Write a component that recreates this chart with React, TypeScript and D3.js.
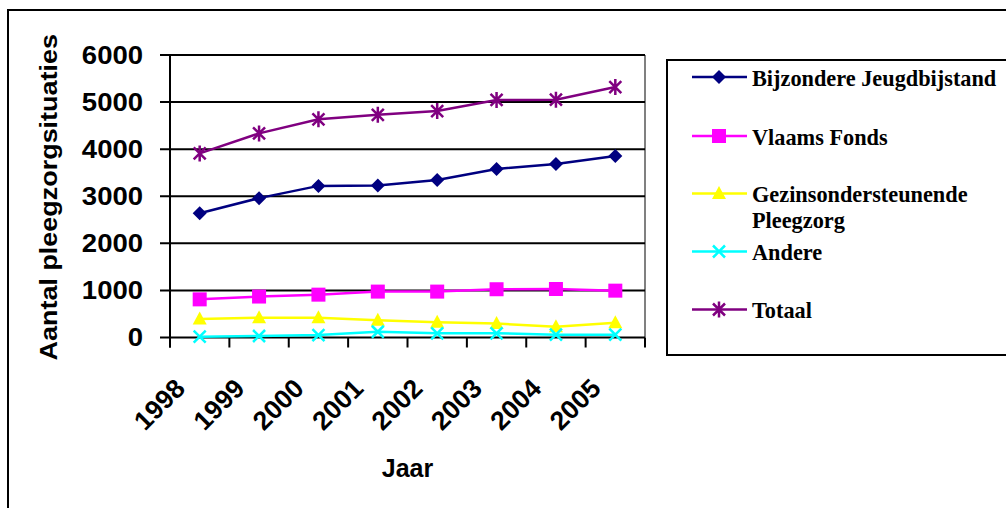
import React from "react";
import * as d3 from "d3";

const years = ["1998", "1999", "2000", "2001", "2002", "2003", "2004", "2005"];
const bijzondere = [2640, 2960, 3220, 3230, 3345, 3580, 3685, 3855];
const vlaams = [810, 870, 910, 975, 975, 1025, 1030, 995];
const gezins = [395, 420, 420, 365, 325, 295, 230, 315];
const andere = [18, 32, 52, 122, 90, 90, 60, 60];
const totaal = [3910, 4335, 4635, 4730, 4810, 5045, 5050, 5320];
const yTicks = [0, 1000, 2000, 3000, 4000, 5000, 6000];

type Marker = "diamond" | "square" | "triangle" | "x" | "star";
const series: { name: string[]; values: number[]; color: string; marker: Marker }[] = [
  { name: ["Bijzondere Jeugdbijstand"], values: bijzondere, color: "#000080", marker: "diamond" },
  { name: ["Vlaams Fonds"], values: vlaams, color: "#FF00FF", marker: "square" },
  { name: ["Gezinsondersteunende", "Pleegzorg"], values: gezins, color: "#FFFF00", marker: "triangle" },
  { name: ["Andere"], values: andere, color: "#00FFFF", marker: "x" },
  { name: ["Totaal"], values: totaal, color: "#800080", marker: "star" },
];

function MarkerShape({ type, color }: { type: Marker; color: string }) {
  switch (type) {
    case "diamond":
      return <path d="M0,-7L7,0L0,7L-7,0Z" fill={color} />;
    case "square":
      return <rect x={-7} y={-7} width={14} height={14} fill={color} />;
    case "triangle":
      return <path d="M0,-7.5L7,5.5L-7,5.5Z" fill={color} />;
    case "x":
      return <path d="M-6,-6L6,6M-6,6L6,-6" stroke={color} strokeWidth={2.5} fill="none" />;
    case "star":
      return <path d="M-6,-6L6,6M-6,6L6,-6M0,-8L0,8" stroke={color} strokeWidth={2.5} fill="none" />;
  }
}

export default function App() {
  const W = 1006, H = 508;
  const left = 170, right = 645, top = 55, bottom = 337.5;
  const x = d3.scaleBand<string>().domain(years).range([left, right]);
  const cx = (yr: string) => (x(yr) as number) + x.bandwidth() / 2;
  const y = d3.scaleLinear().domain([0, 6000]).range([bottom, top]);
  const line = d3.line<number>().x((_, i) => cx(years[i])).y((v) => y(v));
  const sans = "'Liberation Sans', Arial, sans-serif";
  const serif = "'Liberation Serif', 'Times New Roman', serif";
  const legendRows = [77, 136, 193.5, 251.5, 309.5];

  return (
    <svg width={W} height={H} style={{ position: "absolute", left: 0, top: 0 }}>
      <rect x={0} y={0} width={W} height={H} fill="#fff" />
      <rect x={8} y={10} width={1100} height={600} fill="none" stroke="#000" strokeWidth={2} />
      {/* plot border */}
      <line x1={left} x2={right} y1={top} y2={top} stroke="#808080" strokeWidth={2} />
      <line x1={right} x2={right} y1={top} y2={bottom} stroke="#808080" strokeWidth={2} />
      {/* gridlines */}
      {yTicks.map((t) => (
        <g key={t}>
          <line x1={left - 10} x2={right} y1={y(t)} y2={y(t)} stroke="#000" strokeWidth={2} />
          <text
            transform={`translate(143,${y(t) + 8.7}) scale(1.1,1)`}
            textAnchor="end"
            fontFamily={sans}
            fontWeight="bold"
            fontSize={25}
          >
            {t}
          </text>
        </g>
      ))}
      {/* axes */}
      <line x1={left} x2={left} y1={top} y2={bottom + 10} stroke="#000" strokeWidth={2} />
      {years.map((yr) => (
        <line key={yr} x1={x(yr)} x2={x(yr)} y1={bottom} y2={bottom + 10} stroke="#000" strokeWidth={2} />
      ))}
      <line x1={right} x2={right} y1={bottom} y2={bottom + 10} stroke="#000" strokeWidth={2} />
      {years.map((yr) => (
        <text
          key={yr}
          transform={`translate(${cx(yr) - 13},390) rotate(-45)`}
          textAnchor="end"
          fontFamily={sans}
          fontWeight="bold"
          fontSize={26.5}
        >
          {yr}
        </text>
      ))}
      <text x={(left + right) / 2} y={476.5} textAnchor="middle" fontFamily={sans} fontWeight="bold" fontSize={25}>
        Jaar
      </text>
      <text
        transform={`translate(57,${(top + bottom) / 2 + 1}) rotate(-90) scale(1.1,1)`}
        textAnchor="middle"
        fontFamily={sans}
        fontWeight="bold"
        fontSize={24.5}
      >
        Aantal pleegzorgsituaties
      </text>
      {/* series */}
      {series.map((s) => (
        <g key={s.name[0]}>
          <path d={line(s.values) as string} fill="none" stroke={s.color} strokeWidth={2.5} />
          {s.values.map((v, i) => (
            <g key={i} transform={`translate(${cx(years[i])},${y(v)})`}>
              <MarkerShape type={s.marker} color={s.color} />
            </g>
          ))}
        </g>
      ))}
      {/* legend */}
      <rect x={667} y={60} width={400} height={295} fill="#fff" stroke="#000" strokeWidth={2} />
      {series.map((s, i) => (
        <g key={s.name[0]} transform={`translate(0,${legendRows[i]})`}>
          <line x1={692} x2={747} y1={0} y2={0} stroke={s.color} strokeWidth={2.5} />
          <g transform="translate(719,0)">
            <MarkerShape type={s.marker} color={s.color} />
          </g>
          {s.name.map((ln, j) => (
            <text key={j} x={752} y={8.7 + j * 26} fontFamily={serif} fontWeight="bold" fontSize={22.3}>
              {ln}
            </text>
          ))}
        </g>
      ))}
    </svg>
  );
}
